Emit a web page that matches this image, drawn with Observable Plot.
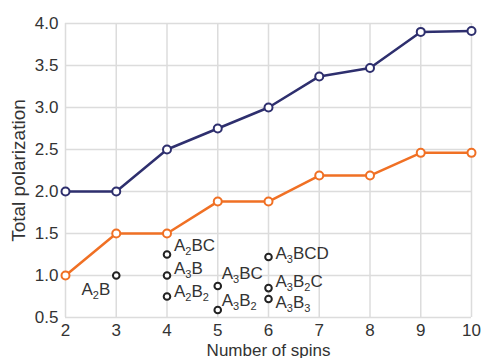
<!DOCTYPE html>
<html>
<head>
<meta charset="utf-8">
<script src="https://cdn.jsdelivr.net/npm/d3@7"></script>
<script src="https://cdn.jsdelivr.net/npm/@observablehq/plot@0.6"></script>
<style>
  html, body { margin: 0; padding: 0; background: #fff; }
  #chart { width: 481px; height: 358px; overflow: hidden; }
</style>
</head>
<body>
<div id="chart"></div>
<script>
// ---- data ----
const spins = [2, 3, 4, 5, 6, 7, 8, 9, 10];
const upperSeries = [2.0, 2.0, 2.5, 2.75, 3.0, 3.37, 3.47, 3.9, 3.91];
const lowerSeries = [1.0, 1.5, 1.5, 1.88, 1.88, 2.19, 2.19, 2.46, 2.46];
const compoundLabels = ["A2B", "A2BC", "A3B", "A2B2", "A3BC", "A3B2", "A3BCD", "A3B2C", "A3B3"];
const compoundSpins  = [3, 4, 4, 4, 5, 5, 6, 6, 6];
const compoundValues = [1.0, 1.25, 1.0, 0.75, 0.875, 0.59, 1.22, 0.85, 0.72];
const xTicks = [2, 3, 4, 5, 6, 7, 8, 9, 10];
const yTicks = [0.5, 1.0, 1.5, 2.0, 2.5, 3.0, 3.5, 4.0];

// label placement (style only)
const labelDx = [-6, 7, 7, 7, 4, 4, 7, 7, 7];
const labelDy = [14, -9, -7, -5, -12, -9, -3, -7, 4];
const labelAnchor = ["end", "start", "start", "start", "start", "start", "start", "start", "start"];

const upper = spins.map((s, i) => ({x: s, y: upperSeries[i]}));
const lower = spins.map((s, i) => ({x: s, y: lowerSeries[i]}));
const compounds = compoundLabels.map((l, i) => ({label: l, x: compoundSpins[i], y: compoundValues[i], dx: labelDx[i], dy: labelDy[i], anchor: labelAnchor[i]}));

const blue = "#2e2f6e";
const orange = "#f07024";

const textMarks = compounds.map(d => Plot.text([d], {
  x: "x", y: "y", text: "label", dx: d.dx, dy: d.dy, textAnchor: d.anchor,
  fill: "#333"
}));

const chart = Plot.plot({
  width: 481,
  height: 358,
  marginLeft: 65,
  marginRight: 10,
  marginTop: 23,
  marginBottom: 41,
  style: {fontFamily: "Arial, 'Liberation Sans', Helvetica, sans-serif", background: "#fff", color: "#333", fontSize: "16px"},
  x: {domain: [2, 10]},
  y: {domain: [0.5, 4]},
  marks: [
    Plot.gridX(xTicks, {stroke: "#dcdcdc", strokeOpacity: 1, strokeWidth: 1.5}),
    Plot.gridY(yTicks, {stroke: "#dcdcdc", strokeOpacity: 1, strokeWidth: 1.5}),
    Plot.axisX(xTicks, {tickSize: 0, tickPadding: 6, label: "Number of spins", labelAnchor: "center", labelOffset: 38, labelArrow: "none", tickFormat: d => String(d)}),
    Plot.axisY(yTicks, {tickSize: 0, tickPadding: 7, label: "Total polarization", labelAnchor: "center", labelOffset: 54, labelArrow: "none", tickFormat: d => d.toFixed(1)}),
    Plot.line(lower, {x: "x", y: "y", stroke: orange, strokeWidth: 2.5}),
    Plot.line(upper, {x: "x", y: "y", stroke: blue, strokeWidth: 2.5}),
    Plot.dot(lower, {x: "x", y: "y", r: 4, stroke: orange, strokeWidth: 2, fill: "#fff"}),
    Plot.dot(upper, {x: "x", y: "y", r: 4, stroke: blue, strokeWidth: 2, fill: "#fff"}),
    Plot.dot(compounds, {x: "x", y: "y", r: 3.3, stroke: "#222", strokeWidth: 2, fill: "#fff"}),
    ...textMarks
  ]
});

// font sizes
d3.select(chart).selectAll("g[aria-label='x-axis tick label'] text, g[aria-label='y-axis tick label'] text").style("font-size", "17px");
d3.select(chart).selectAll("g[aria-label='x-axis label'] text").style("font-size", "17px");
d3.select(chart).selectAll("g[aria-label='y-axis label'] text").style("font-size", "19px");

// turn digits in compound labels into subscripts
d3.select(chart).selectAll("text").each(function() {
  const t = this.textContent;
  if (!compoundLabels.includes(t) || this.querySelector("tspan")) return;
  this.style.fontSize = "17px";
  const parts = t.match(/\d+|\D+/g);
  this.textContent = "";
  let shifted = false;
  for (const p of parts) {
    const ts = document.createElementNS("http://www.w3.org/2000/svg", "tspan");
    ts.textContent = p;
    if (/\d/.test(p)) {
      ts.style.fontSize = "11px";
      ts.setAttribute("dy", "4");
      shifted = true;
    } else if (shifted) {
      ts.setAttribute("dy", "-4");
      shifted = false;
    }
    this.appendChild(ts);
  }
});

document.getElementById("chart").appendChild(chart);
</script>
</body>
</html>
